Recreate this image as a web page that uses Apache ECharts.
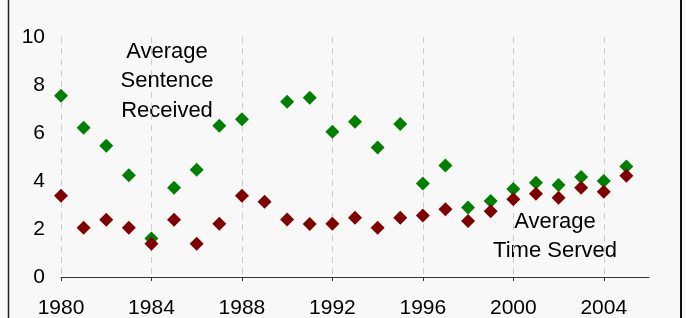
<!DOCTYPE html>
<html>
<head>
<meta charset="utf-8">
<script src="https://cdn.jsdelivr.net/npm/echarts@6/dist/echarts.min.js"></script>
<style>
  html, body { margin: 0; padding: 0; background: #f8f8f8; }
  #chart { width: 686px; height: 318px; }
</style>
</head>
<body>
<div id="chart"></div>
<script>
// years with a value
const years = [1980, 1981, 1982, 1983, 1984, 1985, 1986, 1987, 1988, 1989,
  1990, 1991, 1992, 1993, 1994, 1995, 1996, 1997, 1998, 1999,
  2000, 2001, 2002, 2003, 2004, 2005]
// average sentence received (no point for 1989)
const sentence = [7.55, 6.22, 5.47, 4.24, 1.6, 3.72, 4.47, 6.3, 6.57, null,
  7.3, 7.47, 6.05, 6.47, 5.4, 6.37, 3.9, 4.65, 2.9, 3.17,
  3.67, 3.93, 3.83, 4.17, 4.0, 4.6]
// average time served
const served = [3.39, 2.05, 2.39, 2.05, 1.39, 2.39, 1.39, 2.22, 3.39, 3.14,
  2.4, 2.21, 2.22, 2.47, 2.05, 2.47, 2.56, 2.82, 2.33, 2.74,
  3.24, 3.47, 3.3, 3.72, 3.55, 4.22]
const xTicks = [1980, 1984, 1988, 1992, 1996, 2000, 2004]

const font = 'Liberation Sans, Arial, sans-serif'

const toPairs = (vals) => years.map((y, i) => [y, vals[i]]).filter(p => p[1] != null)

const chart = echarts.init(document.getElementById('chart'))
const option = {
  backgroundColor: '#f8f8f8',
  animation: false,
  grid: { left: 61, right: 37, top: 37, bottom: 41, outerBoundsMode: 'none', containLabel: false },
  xAxis: {
    type: 'value',
    min: 1980,
    max: 2006,
    axisLine: { show: true, lineStyle: { color: '#333', width: 1 } },
    axisTick: { show: true, length: 4, customValues: xTicks, lineStyle: { color: '#333' } },
    axisLabel: {
      customValues: xTicks,
      formatter: (v) => String(v),
      margin: 21,
      color: '#000',
      fontSize: 21,
      fontFamily: font
    },
    splitLine: {
      show: true,
      lineStyle: { color: '#cccccc', type: [6, 5], width: 1 }
    }
  },
  yAxis: {
    type: 'value',
    min: 0,
    max: 10,
    interval: 2,
    axisLine: { show: false },
    axisTick: { show: false },
    splitLine: { show: false },
    axisLabel: { margin: 16, color: '#000', fontSize: 21, fontFamily: font }
  },
  series: [
    {
      name: 'Average Sentence Received',
      type: 'scatter',
      symbol: 'diamond',
      symbolSize: 14,
      itemStyle: { color: '#008000', opacity: 1 },
      data: toPairs(sentence)
    },
    {
      name: 'Average Time Served',
      type: 'scatter',
      symbol: 'diamond',
      symbolSize: 14,
      itemStyle: { color: '#800000', opacity: 1 },
      data: toPairs(served)
    }
  ],
  graphic: [
    { type: 'line', shape: { x1: 8.5, y1: 0, x2: 8.5, y2: 318 }, style: { stroke: '#222', lineWidth: 1.5 } },
    { type: 'line', shape: { x1: 681, y1: 0, x2: 681, y2: 318 }, style: { stroke: '#111', lineWidth: 2 } },
    {
      type: 'text', x: 167, y: 37,
      style: {
        text: 'Average\nSentence\nReceived', align: 'center',
        fill: '#000', font: '22px ' + font, lineHeight: 29.5
      }
    },
    {
      type: 'text', x: 555, y: 207,
      style: {
        text: 'Average\nTime Served', align: 'center',
        fill: '#000', font: '22px ' + font, lineHeight: 29.5
      }
    }
  ]
}
chart.setOption(option)
</script>
</body>
</html>
